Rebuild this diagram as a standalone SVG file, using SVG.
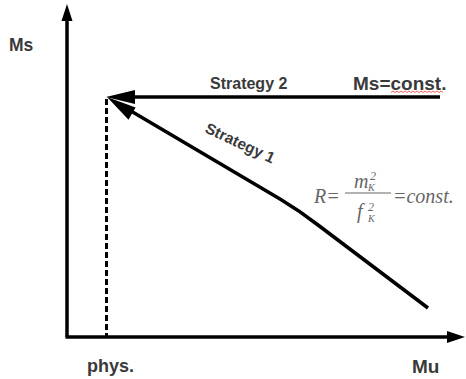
<svg xmlns="http://www.w3.org/2000/svg" width="466" height="379" viewBox="0 0 466 379">
<style>
.ax{stroke:#000;stroke-width:3.5;fill:none}
.lbl{font-family:"Liberation Sans",Arial,sans-serif;font-weight:bold;fill:#3a3a3a}
.frm{font-family:"Liberation Serif","Times New Roman",serif;font-style:italic;fill:#666}
.hd{fill:#000}
</style>
<rect width="466" height="379" fill="#fff"/>
<g id="connectors">
<line class="ax" x1="67" y1="337" x2="67" y2="18"/>
<polygon class="hd" points="67,4 61.5,21 72.5,21"/>
<line class="ax" x1="65.5" y1="337" x2="449" y2="337"/>
<polygon class="hd" points="465,337 447,331 447,343"/>
<line x1="106.5" y1="99" x2="106.5" y2="337" stroke="#000" stroke-width="3" stroke-dasharray="6,3"/>
<line class="ax" x1="130" y1="97" x2="440" y2="97"/>
<polygon class="hd" points="106,97 135,90 135,104"/>
<path class="ax" d="M125,107.6 L280,199 Q300,211 318,225 L428,308"/>
<polygon class="hd" points="107,97 135.6,107.6 128.5,119.7"/>
</g>
<g id="axis-labels">
<text class="lbl" x="9" y="51" font-size="17.5">Ms</text>
<text class="lbl" x="87" y="372" font-size="18">phys.</text>
<text class="lbl" x="412" y="373" font-size="19">Mu</text>
</g>
<g id="strategy2">
<text class="lbl" x="210" y="89" font-size="16">Strategy 2</text>
<text class="lbl" x="353" y="90" font-size="19" fill="#2a2a2a">Ms=const.</text>
<polyline points="391,92.5 393,91 395,92.5 397,91 399,92.5 401,91 403,92.5 405,91 407,92.5 409,91 411,92.5 413,91 415,92.5 417,91 419,92.5 421,91 423,92.5 425,91 427,92.5 429,91 431,92.5 433,91 435,92.5 437,91 439,92.5 441,91 443,92.5" fill="none" stroke="#e33" stroke-width="0.8"/>
</g>
<g id="strategy1">
<text class="lbl" x="204" y="132" font-size="15.5" transform="rotate(25 204 132)">Strategy 1</text>
</g>
<g id="formula">
<text class="frm" x="314" y="203" font-size="20">R=</text>
<line x1="345" y1="193" x2="391" y2="193" stroke="#666" stroke-width="1"/>
<text class="frm" x="354" y="188" font-size="20">m</text>
<text class="frm" x="370" y="180" font-size="12">2</text>
<text class="frm" x="368" y="191" font-size="10">K</text>
<text class="frm" x="357" y="218" font-size="20">f</text>
<text class="frm" x="368" y="211" font-size="12">2</text>
<text class="frm" x="368" y="222" font-size="10">K</text>
<text class="frm" x="393" y="203" font-size="20">=const.</text>
</g>
</svg>
